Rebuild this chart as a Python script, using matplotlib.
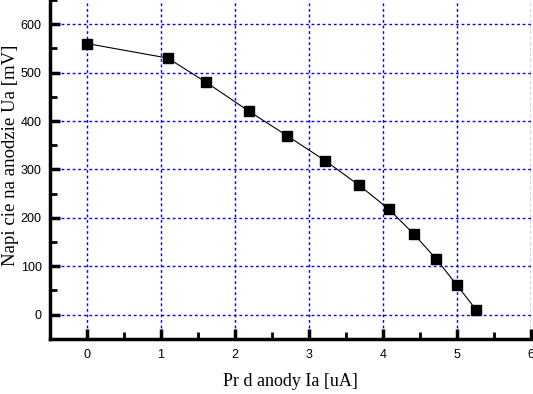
import matplotlib.pyplot as plt
from matplotlib.ticker import MultipleLocator

prad = [0, 1.09, 1.61, 2.19, 2.7, 3.22, 3.68, 4.08, 4.42, 4.72, 5.0, 5.26]
napiecie = [560, 530, 480, 420, 370, 318, 267, 218, 166, 115, 61, 10]

fig = plt.figure(figsize=(5.33, 3.94), dpi=100)
ax = fig.add_axes([0.094, 0.14, 0.902, 0.86])

ax.plot(prad, napiecie, color='black', lw=0.8, marker='s', ms=6.5)

ax.set_xlim(-0.5, 6)
ax.set_ylim(-50, 650)
ax.xaxis.set_major_locator(MultipleLocator(1))
ax.xaxis.set_minor_locator(MultipleLocator(0.5))
ax.yaxis.set_major_locator(MultipleLocator(100))
ax.yaxis.set_minor_locator(MultipleLocator(50))
ax.grid(True, which='major', color='blue', ls=(0, (2, 2)), lw=1)

for s in ['top', 'right']:
    ax.spines[s].set_visible(False)
for s in ['left', 'bottom']:
    ax.spines[s].set_linewidth(2.5)

ax.tick_params(which='major', direction='in', length=7, width=2.5, labelsize=9, pad=7)
ax.tick_params(axis='y', which='major', pad=6)
ax.tick_params(which='minor', direction='in', length=5, width=2)
for lab in ax.get_xticklabels() + ax.get_yticklabels():
    lab.set_fontfamily('Liberation Sans')

ax.set_xlabel("Pr d anody Ia [uA]", fontfamily='Liberation Serif', fontsize=13)
ax.set_ylabel("Napi cie na anodzie Ua [mV]", fontfamily='Liberation Serif', fontsize=13.5)
ax.xaxis.set_label_coords(0.5, -0.1)
ax.yaxis.set_label_coords(-0.064, 0.543)

fig.savefig('out.png', dpi=100)
